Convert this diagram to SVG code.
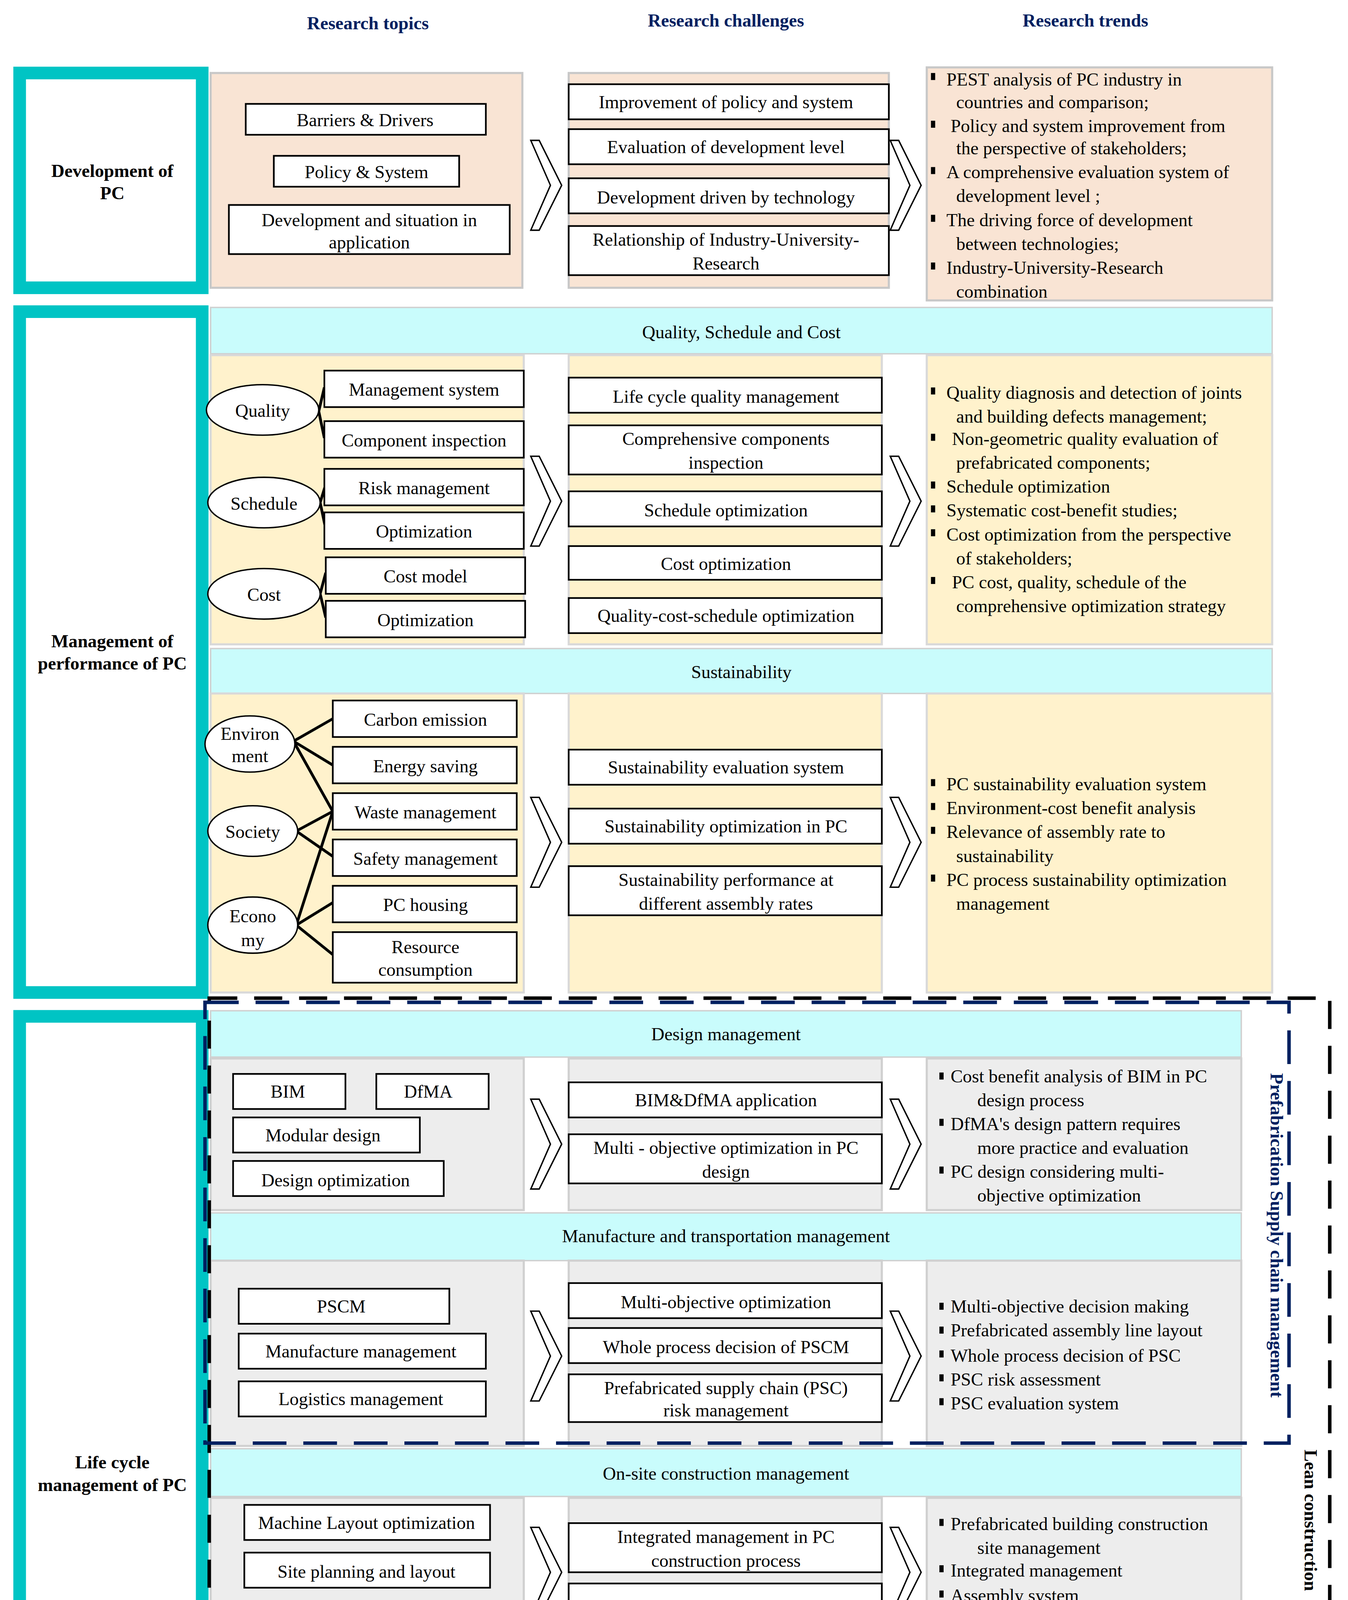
<svg xmlns="http://www.w3.org/2000/svg" xmlns:xlink="http://www.w3.org/1999/xlink" width="3450" height="5609" viewBox="0 0 3450 5609">
<style>
text{font-family:"Liberation Serif","Times New Roman",serif;font-size:13px;fill:#000}
.c{text-anchor:middle}
.h{font-weight:bold;fill:#002060;text-anchor:middle}
.b{font-weight:bold;text-anchor:middle}
.teal{fill:#fff;stroke:#00c4c4;stroke-width:9}
.peach{fill:#f9e4d4;stroke:#c8c8c8;stroke-width:1.5}
.yel{fill:#fff2cc;stroke:#d9d9d9;stroke-width:1.5}
.grey{fill:#ededed;stroke:#d0d0d0;stroke-width:1.5}
.blue{fill:#b4c7e7;stroke:#d0d0d0;stroke-width:1.5}
.band{fill:#c9fcfc;stroke:#d0d0d0;stroke-width:1}
.bx{fill:#fff;stroke:#000;stroke-width:1.2}
.el{fill:#fff;stroke:#000;stroke-width:1}
.ln{stroke:#000;stroke-width:2;fill:none}
.chev{fill:#fff;stroke:#000;stroke-width:1}
.bu{fill:#000}
</style>
<defs>
<polygon id="chev" points="0,0 6,0 22,32 6,64 0,64 14,32" class="chev"/>
<rect id="bul" width="3" height="5" class="bu"/>
</defs>
<rect width="3450" height="5609" fill="#fff"/>
<g transform="scale(3.59375)">
<g id="headers">
<text class="h" x="262" y="21">Research topics</text>
<text class="h" x="517" y="19">Research challenges</text>
<text class="h" x="773" y="19">Research trends</text>
</g>

<g id="sec1">
<rect class="teal" x="14" y="52" width="130" height="153"/>
<text class="b" x="80" y="126">Development  of</text>
<text class="b" x="80" y="142">PC</text>
<rect class="peach" x="150" y="52" width="222" height="153"/>
<rect class="peach" x="405" y="52" width="228" height="153"/>
<rect class="peach" x="660" y="48" width="246" height="166"/>
<rect class="bx" x="175" y="74" width="171" height="22"/><text class="c" x="260" y="90">Barriers &amp; Drivers</text>
<rect class="bx" x="195" y="111" width="132" height="22"/><text class="c" x="261" y="127">Policy &amp; System</text>
<rect class="bx" x="163" y="146" width="200" height="35"/><text class="c" x="263" y="161">Development and situation in</text><text class="c" x="263" y="177">application</text>
<rect class="bx" x="405" y="60" width="228" height="25"/><text class="c" x="517" y="77">Improvement of policy and system</text>
<rect class="bx" x="405" y="92" width="228" height="25"/><text class="c" x="517" y="109">Evaluation of development level</text>
<rect class="bx" x="405" y="127" width="228" height="25"/><text class="c" x="517" y="145">Development driven by technology</text>
<rect class="bx" x="405" y="161" width="228" height="35"/><text class="c" x="517" y="175">Relationship of Industry-University-</text><text class="c" x="517" y="192">Research</text>
<use href="#chev" x="378" y="100"/><use href="#chev" x="634" y="100"/>
<use href="#bul" x="663" y="52"/><text x="674" y="61">PEST analysis of PC industry in</text><text x="681" y="77">countries and comparison;</text>
<use href="#bul" x="663" y="86"/><text x="677" y="94">Policy and system improvement from</text><text x="681" y="110">the perspective of stakeholders;</text>
<use href="#bul" x="663" y="119"/><text x="674" y="127">A comprehensive evaluation system of</text><text x="681" y="144">development level ;</text>
<use href="#bul" x="663" y="153"/><text x="674" y="161">The driving force of development</text><text x="681" y="178">between technologies;</text>
<use href="#bul" x="663" y="187"/><text x="674" y="195">Industry-University-Research</text><text x="681" y="212">combination</text>
</g>

<g id="sec2">
<rect class="teal" x="14" y="222" width="130" height="485"/>
<text class="b" x="80" y="461">Management of</text>
<text class="b" x="80" y="477">performance of PC</text>
<rect class="band" x="150" y="219" width="756" height="33"/><text class="c" x="528" y="241">Quality, Schedule and Cost</text>
<rect class="yel" x="150" y="253" width="223" height="206"/>
<rect class="yel" x="405" y="253" width="223" height="206"/>
<rect class="yel" x="660" y="253" width="246" height="206"/>
<g class="ln">
<path d="M227,293 L231,276 M227,293 L231,312"/>
<path d="M228,358 L232,345 M228,358 L232,377"/>
<path d="M228,423 L232,408 M228,423 L232,440"/>
</g>
<ellipse class="el" cx="187" cy="292" rx="40" ry="18"/><text class="c" x="187" y="297">Quality</text>
<ellipse class="el" cx="188" cy="358" rx="40" ry="18"/><text class="c" x="188" y="363">Schedule</text>
<ellipse class="el" cx="188" cy="423" rx="40" ry="18"/><text class="c" x="188" y="428">Cost</text>
<rect class="bx" x="231" y="264" width="142" height="26"/><text class="c" x="302" y="282">Management system</text>
<rect class="bx" x="231" y="300" width="142" height="26"/><text class="c" x="302" y="318">Component inspection</text>
<rect class="bx" x="231" y="334" width="142" height="26"/><text class="c" x="302" y="352">Risk management</text>
<rect class="bx" x="231" y="365" width="142" height="26"/><text class="c" x="302" y="383">Optimization</text>
<rect class="bx" x="232" y="397" width="142" height="26"/><text class="c" x="303" y="415">Cost model</text>
<rect class="bx" x="232" y="428" width="142" height="26"/><text class="c" x="303" y="446">Optimization</text>
<rect class="bx" x="405" y="269" width="223" height="25"/><text class="c" x="517" y="287">Life cycle quality management</text>
<rect class="bx" x="405" y="303" width="223" height="35"/><text class="c" x="517" y="317">Comprehensive components</text><text class="c" x="517" y="334">inspection</text>
<rect class="bx" x="405" y="350" width="223" height="25"/><text class="c" x="517" y="368">Schedule optimization</text>
<rect class="bx" x="405" y="389" width="223" height="24"/><text class="c" x="517" y="406">Cost optimization</text>
<rect class="bx" x="405" y="426" width="223" height="25"/><text class="c" x="517" y="443">Quality-cost-schedule optimization</text>
<use href="#chev" x="378" y="325"/><use href="#chev" x="634" y="325"/>
<use href="#bul" x="663" y="276"/><text x="674" y="284">Quality diagnosis and detection of joints</text><text x="681" y="301">and building defects management;</text>
<use href="#bul" x="663" y="309"/><text x="678" y="317">Non-geometric quality evaluation of</text><text x="681" y="334">prefabricated components;</text>
<use href="#bul" x="663" y="343"/><text x="674" y="351">Schedule optimization</text>
<use href="#bul" x="663" y="360"/><text x="674" y="368">Systematic cost-benefit studies;</text>
<use href="#bul" x="663" y="377"/><text x="674" y="385">Cost optimization from the perspective</text><text x="681" y="402">of  stakeholders;</text>
<use href="#bul" x="663" y="411"/><text x="678" y="419">PC cost, quality, schedule  of the</text><text x="681" y="436">comprehensive optimization strategy</text>

<rect class="band" x="150" y="462" width="756" height="32"/><text class="c" x="528" y="483">Sustainability</text>
<rect class="yel" x="150" y="494" width="223" height="213"/>
<rect class="yel" x="405" y="494" width="223" height="213"/>
<rect class="yel" x="660" y="494" width="246" height="213"/>
<g class="ln">
<path d="M209,528 L237,512 M209,528 L237,545 M209,528 L237,578"/>
<path d="M211,592 L237,578 M211,592 L237,610"/>
<path d="M211,659 L237,578 M211,659 L237,643 M211,659 L237,680"/>
</g>
<ellipse class="el" cx="178" cy="530" rx="32" ry="20"/><text class="c" x="178" y="527">Environ</text><text class="c" x="178" y="543">ment</text>
<ellipse class="el" cx="180" cy="592" rx="32" ry="18"/><text class="c" x="180" y="597">Society</text>
<ellipse class="el" cx="180" cy="659" rx="32" ry="20"/><text class="c" x="180" y="657">Econo</text><text class="c" x="180" y="674">my</text>
<rect class="bx" x="237" y="499" width="131" height="26"/><text class="c" x="303" y="517">Carbon emission</text>
<rect class="bx" x="237" y="532" width="131" height="26"/><text class="c" x="303" y="550">Energy saving</text>
<rect class="bx" x="237" y="565" width="131" height="26"/><text class="c" x="303" y="583">Waste management</text>
<rect class="bx" x="237" y="598" width="131" height="26"/><text class="c" x="303" y="616">Safety management</text>
<rect class="bx" x="237" y="631" width="131" height="26"/><text class="c" x="303" y="649">PC housing</text>
<rect class="bx" x="237" y="664" width="131" height="36"/><text class="c" x="303" y="679">Resource</text><text class="c" x="303" y="695">consumption</text>
<rect class="bx" x="405" y="534" width="223" height="25"/><text class="c" x="517" y="551">Sustainability evaluation system</text>
<rect class="bx" x="405" y="576" width="223" height="25"/><text class="c" x="517" y="593">Sustainability optimization in PC</text>
<rect class="bx" x="405" y="617" width="223" height="35"/><text class="c" x="517" y="631">Sustainability performance at</text><text class="c" x="517" y="648">different assembly rates</text>
<use href="#chev" x="378" y="568"/><use href="#chev" x="634" y="568"/>
<use href="#bul" x="663" y="555"/><text x="674" y="563">PC sustainability evaluation system</text>
<use href="#bul" x="663" y="572"/><text x="674" y="580">Environment-cost benefit analysis</text>
<use href="#bul" x="663" y="589"/><text x="674" y="597">Relevance of assembly rate to</text><text x="681" y="614">sustainability</text>
<use href="#bul" x="663" y="623"/><text x="674" y="631">PC process sustainability optimization</text><text x="681" y="648">management</text>
</g>

<g id="sec3">
<rect class="teal" x="14" y="724" width="130" height="652"/>
<text class="b" x="80" y="1046">Life cycle</text>
<text class="b" x="80" y="1062">management of PC</text>
<rect class="band" x="150" y="720" width="734" height="33"/><text class="c" x="517" y="741">Design management</text>
<rect class="grey" x="150" y="754" width="223" height="108"/>
<rect class="grey" x="405" y="754" width="223" height="108"/>
<rect class="grey" x="660" y="754" width="224" height="108"/>
<rect class="bx" x="166" y="765" width="80" height="25"/><text class="c" x="205" y="782">BIM</text>
<rect class="bx" x="268" y="765" width="80" height="25"/><text class="c" x="305" y="782">DfMA</text>
<rect class="bx" x="166" y="796" width="133" height="25"/><text class="c" x="230" y="813">Modular design</text>
<rect class="bx" x="166" y="827" width="150" height="25"/><text class="c" x="239" y="845">Design optimization</text>
<rect class="bx" x="405" y="771" width="223" height="25"/><text class="c" x="517" y="788">BIM&amp;DfMA application</text>
<rect class="bx" x="405" y="808" width="223" height="35"/><text class="c" x="517" y="822">Multi - objective optimization in PC</text><text class="c" x="517" y="839">design</text>
<use href="#chev" x="378" y="783"/><use href="#chev" x="634" y="783"/>
<use href="#bul" x="669" y="764"/><text x="677" y="771">Cost benefit analysis of BIM in PC</text><text x="696" y="788">design process</text>
<use href="#bul" x="669" y="797"/><text x="677" y="805">DfMA's design pattern requires</text><text x="696" y="822">more practice and evaluation</text>
<use href="#bul" x="669" y="831"/><text x="677" y="839">PC design considering multi-</text><text x="696" y="856">objective optimization</text>

<rect class="band" x="150" y="864" width="734" height="34"/><text class="c" x="517" y="885">Manufacture and transportation management</text>
<rect class="grey" x="150" y="898" width="223" height="132"/>
<rect class="grey" x="405" y="898" width="223" height="132"/>
<rect class="grey" x="660" y="898" width="224" height="132"/>
<rect class="bx" x="170" y="918" width="150" height="25"/><text class="c" x="243" y="935">PSCM</text>
<rect class="bx" x="170" y="950" width="176" height="25"/><text class="c" x="257" y="967">Manufacture management</text>
<rect class="bx" x="170" y="984" width="176" height="25"/><text class="c" x="257" y="1001">Logistics  management</text>
<rect class="bx" x="405" y="914" width="223" height="25"/><text class="c" x="517" y="932">Multi-objective optimization</text>
<rect class="bx" x="405" y="946" width="223" height="25"/><text class="c" x="517" y="964">Whole process decision of PSCM</text>
<rect class="bx" x="405" y="979" width="223" height="34"/><text class="c" x="517" y="993">Prefabricated supply chain (PSC)</text><text class="c" x="517" y="1009">risk management</text>
<use href="#chev" x="378" y="934"/><use href="#chev" x="634" y="934"/>
<use href="#bul" x="669" y="928"/><text x="677" y="935">Multi-objective decision making</text>
<use href="#bul" x="669" y="945"/><text x="677" y="952">Prefabricated assembly line layout</text>
<use href="#bul" x="669" y="962"/><text x="677" y="970">Whole process decision of PSC</text>
<use href="#bul" x="669" y="979"/><text x="677" y="987">PSC risk assessment</text>
<use href="#bul" x="669" y="996"/><text x="677" y="1004">PSC evaluation system</text>

<rect class="band" x="150" y="1032" width="734" height="34"/><text class="c" x="517" y="1054">On-site construction management</text>
<rect class="grey" x="150" y="1067" width="223" height="105"/>
<rect class="grey" x="405" y="1067" width="223" height="105"/>
<rect class="grey" x="660" y="1067" width="224" height="105"/>
<rect class="bx" x="174" y="1072" width="175" height="25"/><text class="c" x="261" y="1089">Machine Layout optimization</text>
<rect class="bx" x="174" y="1106" width="175" height="25"/><text class="c" x="261" y="1124">Site planning and layout</text>
<rect class="bx" x="174" y="1141" width="175" height="25"/><text class="c" x="261" y="1159">Assembly management</text>
<rect class="bx" x="405" y="1085" width="223" height="35"/><text class="c" x="517" y="1099">Integrated management in PC</text><text class="c" x="517" y="1116">construction process</text>
<rect class="bx" x="405" y="1128" width="223" height="33"/><text class="c" x="517" y="1149">Optimization of construction  process</text>
<use href="#chev" x="378" y="1088"/><use href="#chev" x="634" y="1088"/>
<use href="#bul" x="669" y="1082"/><text x="677" y="1090">Prefabricated building construction</text><text x="696" y="1107">site management</text>
<use href="#bul" x="669" y="1115"/><text x="677" y="1123">Integrated management</text>
<use href="#bul" x="669" y="1133"/><text x="677" y="1141">Assembly system</text>
<use href="#bul" x="669" y="1150"/><text x="677" y="1158">Robot construction</text>

<rect class="band" x="150" y="1175" width="734" height="34"/><text class="c" x="517" y="1197">Operation  management</text>
<rect class="grey" x="150" y="1210" width="223" height="83"/>
<rect class="grey" x="405" y="1210" width="227" height="83"/>
<rect class="grey" x="660" y="1210" width="224" height="83"/>
<rect class="bx" x="175" y="1218" width="176" height="25"/><text class="c" x="261" y="1236">Health monitoring</text>
<rect class="bx" x="175" y="1257" width="176" height="25"/><text class="c" x="261" y="1275">Building comfort</text>
<rect class="bx" x="407" y="1214" width="224" height="35"/><text class="c" x="519" y="1229">Structure health monitoring &amp; PC</text><text class="c" x="519" y="1245">building defect</text>
<rect class="bx" x="407" y="1254" width="224" height="35"/><text class="c" x="519" y="1268">PC building comfort evaluation</text><text class="c" x="519" y="1285">&amp;optimization</text>
<use href="#chev" x="378" y="1222"/><use href="#chev" x="635" y="1222"/>
<use href="#bul" x="669" y="1222"/><text x="677" y="1231">Comprehensive prefabricated</text><text x="696" y="1248">buildings health monitoring</text>
<use href="#bul" x="669" y="1256"/><text x="677" y="1265">Evaluation of prefabricated</text><text x="696" y="1282">buildings in use phase</text>

<rect class="band" x="150" y="1295" width="734" height="33"/><text class="c" x="519" y="1316">Waste management</text>
<rect class="grey" x="150" y="1329" width="223" height="57"/>
<rect class="grey" x="407" y="1329" width="221" height="57"/>
<rect class="grey" x="662" y="1329" width="222" height="57"/>
<rect class="bx" x="174" y="1345" width="175" height="25"/><text class="c" x="260" y="1362">Reduction, Disposal, Recycle</text>
<rect class="bx" x="407" y="1345" width="221" height="25"/><text class="c" x="514" y="1362">PC waste management</text>
<polygon class="chev" points="378,1332 384,1332 400,1357 384,1382 378,1382 392,1357"/>
<polygon class="chev" points="635,1332 641,1332 657,1357 641,1382 635,1382 649,1357"/>
<use href="#bul" x="670" y="1354"/><text x="678" y="1362">Life cycle waste management in PC</text>
</g>

<g id="sec4">
<rect class="teal" x="14" y="1394" width="130" height="157"/>
<text class="b" x="80" y="1461">Technological</text>
<text class="b" x="80" y="1478">applications in</text>
<text class="b" x="80" y="1494">MPC</text>
<rect class="blue" x="150" y="1398" width="223" height="152"/>
<rect class="blue" x="405" y="1398" width="223" height="152"/>
<rect class="blue" x="660" y="1398" width="224" height="152"/>
<rect class="bx" x="167" y="1403" width="65" height="22"/><text class="c" x="200" y="1419">BIM</text>
<rect class="bx" x="253" y="1405" width="80" height="23"/><text class="c" x="294" y="1421">Block chain</text>
<rect class="bx" x="167" y="1436" width="65" height="22"/><text class="c" x="200" y="1452">IoT</text>
<rect class="bx" x="245" y="1438" width="118" height="22"/><text class="c" x="305" y="1454">Intelligent sensor</text>
<rect class="bx" x="167" y="1469" width="65" height="22"/><text class="c" x="200" y="1485">GIS</text>
<rect class="bx" x="265" y="1471" width="66" height="22"/><text class="c" x="298" y="1487">Robotic</text>
<rect class="bx" x="167" y="1497" width="65" height="22"/><text class="c" x="200" y="1513">3D print</text>
<rect class="bx" x="240" y="1505" width="117" height="35"/><text class="c" x="298" y="1519">Intelligent</text><text class="c" x="298" y="1535">algorithm</text>
<rect class="bx" x="167" y="1524" width="65" height="22"/><text class="c" x="200" y="1540" style="font-family:'Liberation Serif','Noto Sans CJK SC',serif">VR、AR</text>
<rect class="bx" x="405" y="1421" width="223" height="25"/><text class="c" x="514" y="1438">IT application scenario in PC</text>
<rect class="bx" x="405" y="1457" width="223" height="25"/><text class="c" x="514" y="1474">IT application evaluation in PC</text>
<rect class="bx" x="405" y="1494" width="223" height="25"/><text class="c" x="514" y="1511">IT selection strategy in PC</text>
<use href="#chev" x="378" y="1438"/><use href="#chev" x="634" y="1438"/>
<use href="#bul" x="669" y="1428"/><text x="677" y="1436">Information technology (IT)</text><text x="696" y="1453">application scenario mining</text>
<use href="#bul" x="669" y="1462"/><text x="677" y="1470">Analysis of the costs and benefits of</text><text x="696" y="1487">using technology for PC</text>
<use href="#bul" x="669" y="1496"/><text x="677" y="1504">Technology selection strategy of</text><text x="696" y="1521">PC</text>
</g>

<g id="connectors">
<rect x="149" y="711" width="798" height="468" fill="none" stroke="#000" stroke-width="2.5" stroke-dasharray="20,12"/>
<rect x="146" y="714" width="772" height="314" fill="none" stroke="#002060" stroke-width="2.5" stroke-dasharray="24,12"/>
</g>
<g id="labels">
<text transform="translate(905,880) rotate(90)" class="b" style="fill:#002060">Prefabrication Supply chain management</text>
<text transform="translate(929,1083) rotate(90)" class="b">Lean construction</text>
</g>
</g>
</svg>
